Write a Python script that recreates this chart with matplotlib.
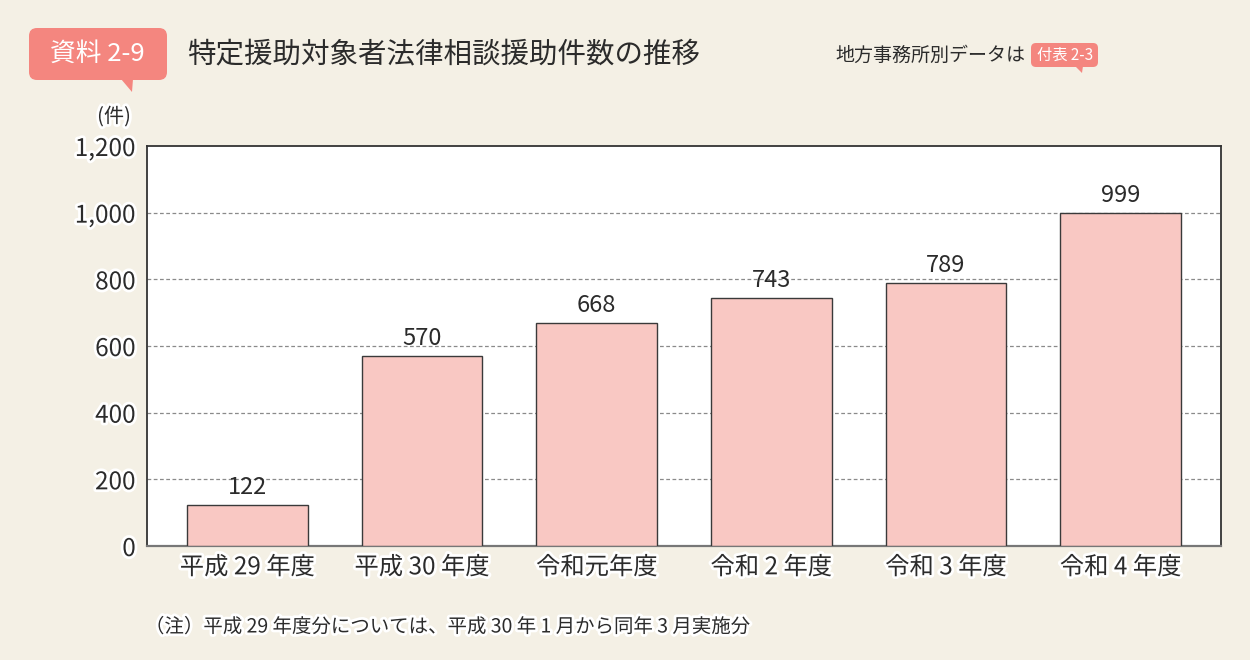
import matplotlib
matplotlib.use("Agg")
import matplotlib.pyplot as plt
import matplotlib.patheffects as pe
from matplotlib.patches import FancyBboxPatch, Polygon

plt.rcParams['font.family'] = ['Noto Sans CJK JP', 'DejaVu Sans']

categories = ["平成 29 年度", "平成 30 年度", "令和元年度", "令和 2 年度", "令和 3 年度", "令和 4 年度"]
values = [122, 570, 668, 743, 789, 999]
yticks = [0, 200, 400, 600, 800, 1000, 1200]
ytick_labels = ["0", "200", "400", "600", "800", "1,000", "1,200"]

title = "特定援助対象者法律相談援助件数の推移"
badge = "資料 2-9"
note = "地方事務所別データは"
note_badge = "付表 2-3"
unit = "(件)"
footnote = "（注）平成 29 年度分については、平成 30 年 1 月から同年 3 月実施分"

BG = "#F4F0E5"
BADGE = "#F4867F"
BAR = "#F9C8C3"
TXT = "#2b2b2b"
halo = [pe.withStroke(linewidth=4, foreground="white")]

W, H = 1250, 660
fig = plt.figure(figsize=(W / 100, H / 100), dpi=100, facecolor=BG)

# background overlay axes in pixel coordinates
bg = fig.add_axes([0, 0, 1, 1])
bg.set_xlim(0, W)
bg.set_ylim(H, 0)
bg.axis("off")
bg.patch.set_alpha(0)

# main badge
bg.add_patch(FancyBboxPatch((29 + 8, 28 + 8), 138 - 16, 52 - 16,
                            boxstyle="round,pad=8", fc=BADGE, ec="none"))
bg.add_patch(Polygon([(121, 79), (133, 79), (132, 92)], closed=True, fc=BADGE, ec="none"))
bg.text(97, 54, badge, color="white", fontsize=18.5, ha="center", va="center")
bg.text(187, 54, title, color=TXT, fontsize=20.5, ha="left", va="center")

# right note
bg.text(835, 55, note, color=TXT, fontsize=13.7, ha="left", va="center")
bg.add_patch(FancyBboxPatch((1031 + 5, 43 + 5), 67 - 10, 24 - 10,
                            boxstyle="round,pad=5", fc=BADGE, ec="none"))
bg.add_patch(Polygon([(1075, 66), (1083, 66), (1082, 73)], closed=True, fc=BADGE, ec="none"))
bg.text(1065, 55, note_badge, color="white", fontsize=11, ha="center", va="center")

# unit and footnote
bg.text(114, 117, unit, color=TXT, fontsize=14.5, ha="center", va="center", path_effects=halo)
bg.text(145, 627, footnote, color=TXT, fontsize=14, ha="left", va="center", path_effects=halo)

# main chart
ax = fig.add_axes([147 / W, 1 - 546 / H, (1221 - 147) / W, (546 - 146) / H])
ax.set_facecolor("white")
x = list(range(len(categories)))
bars = ax.bar(x, values, width=0.69, color=BAR, edgecolor="#3a3a3a", linewidth=1.0, zorder=3)
ax.set_xlim(-0.575, len(categories) - 1 + 0.575)
ax.set_ylim(0, 1200)
ax.set_yticks(yticks)
ax.set_yticklabels(ytick_labels)
ax.set_xticks(x)
ax.set_xticklabels(categories)
ax.tick_params(axis="both", length=0, labelsize=17.5, colors=TXT)
ax.tick_params(axis="y", pad=8)
ax.tick_params(axis="x", pad=6)
for lab in ax.get_xticklabels() + ax.get_yticklabels():
    lab.set_path_effects(halo)

for yv in yticks[1:-1]:
    ax.axhline(yv, color="#8a8a8a", linewidth=0.9, linestyle=(0, (3, 2)), zorder=1)

for s in ["top", "left", "right"]:
    ax.spines[s].set_color("#333333")
    ax.spines[s].set_linewidth(1.3)
ax.spines["bottom"].set_color("#777777")
ax.spines["bottom"].set_linewidth(1.6)

for xi, v in zip(x, values):
    ax.annotate(str(v), (xi, v), xytext=(0, 8), textcoords="offset points",
                ha="center", va="baseline", fontsize=17, color=TXT, zorder=4)

fig.savefig("out.png", dpi=100, facecolor=BG)
